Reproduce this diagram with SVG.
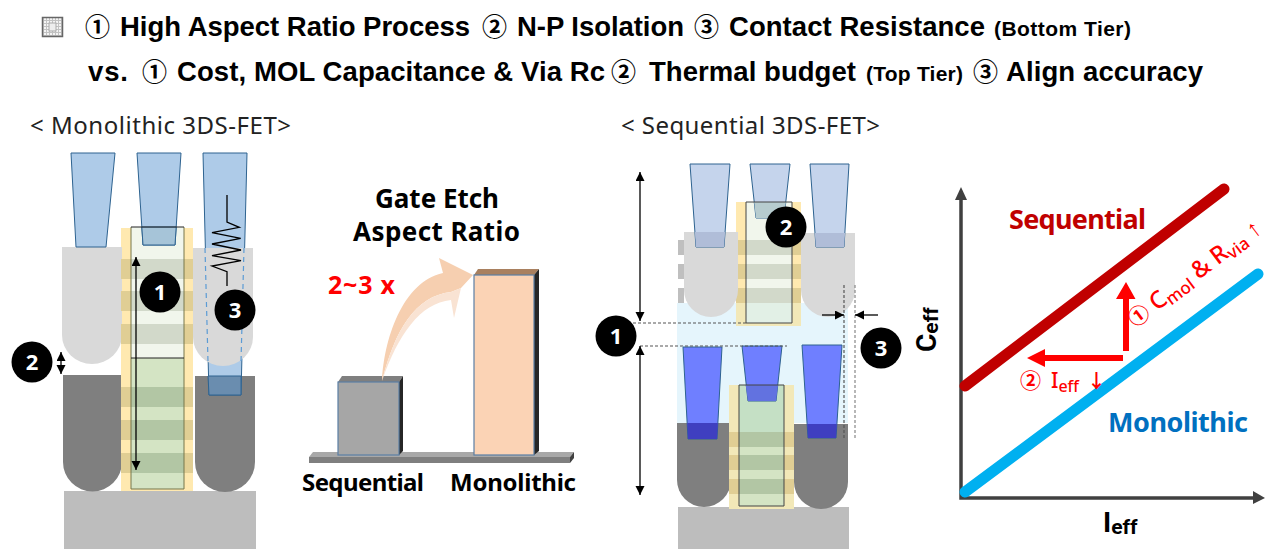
<svg xmlns="http://www.w3.org/2000/svg" width="1287" height="558" viewBox="0 0 1287 558">
<defs>
<style>
.t{font-family:"Liberation Sans",Arial,sans-serif;font-weight:700;fill:#000;font-size:27.500px}
.s{font-size:21px}
.c{font-family:"Noto Sans CJK KR","Noto Sans CJK SC",sans-serif;font-weight:700;font-size:25px;fill:#000}
.h{font-family:"Noto Sans",sans-serif;font-size:24px;fill:#222}
.b{font-family:"Noto Sans",sans-serif;font-weight:700}
.r{font-family:Roboto,sans-serif;font-weight:700}
.lab{font-family:"Noto Sans",sans-serif;fill:#FF0000;font-weight:500}
.cj{font-family:"Noto Sans CJK KR","Noto Sans CJK SC",sans-serif;fill:#FF0000;font-weight:700}
.cw{font-family:"Noto Sans",sans-serif;font-weight:700;font-size:22px;fill:#fff;text-anchor:middle}
.via{fill:#AECBE8;stroke:#2E6390;stroke-width:1}
.via2{fill:#C5D4EC;stroke:#2E6390;stroke-width:1}
.via3{fill:#6F7FFF;stroke:#2E6390;stroke-width:1}
.ar{stroke:#000;stroke-width:1.300;fill:none}
</style>
<marker id="ah" markerUnits="userSpaceOnUse" markerWidth="11" markerHeight="10" refX="9" refY="4.500" orient="auto-start-reverse"><path d="M0,0L9,4.500L0,9Z" fill="#000"/></marker>
<pattern id="grid" patternUnits="userSpaceOnUse" x="42" y="16" width="3" height="3"><rect width="3" height="3" fill="#F4F4F4"/><path d="M0,1.500H3M1.500,0V3" stroke="#C2C2C2" stroke-width="1"/></pattern>
</defs>
<rect width="1287" height="558" fill="#fff"/>

<g id="title">
<rect x="42.500" y="17.500" width="20" height="19" fill="url(#grid)" stroke="#666" stroke-width="1.500"/>
<rect x="49" y="23" width="7" height="8" fill="#EDEDED" stroke="#AAA" stroke-width="1"/>
<text class="c" x="85" y="36">①</text>
<text class="t" x="120" y="36" textLength="350">High Aspect Ratio Process</text>
<text class="c" x="482" y="36">②</text>
<text class="t" x="517" y="36" textLength="167">N-P Isolation</text>
<text class="c" x="694" y="36">③</text>
<text class="t" x="729" y="36" textLength="256">Contact Resistance</text>
<text class="t s" x="994" y="36" textLength="137">(Bottom Tier)</text>
<text class="t" x="88" y="81" textLength="40">vs.</text>
<text class="c" x="142" y="81">①</text>
<text class="t" x="177" y="81" textLength="428">Cost, MOL Capacitance &amp; Via Rc</text>
<text class="c" x="611" y="81">②</text>
<text class="t" x="649" y="81" textLength="207">Thermal budget</text>
<text class="t s" x="866" y="81" textLength="97">(Top Tier)</text>
<text class="c" x="973" y="81">③</text>
<text class="t" x="1006" y="81" textLength="197">Align accuracy</text>
</g>

<g id="monolithic">
<text class="h" x="30" y="134" textLength="261">&lt;  Monolithic 3DS-FET&gt;</text>
<rect x="64" y="491" width="192" height="58" fill="#BDBDBD"/>
<path d="M63,375H122V462A29.500,29.500 0 0 1 63,462Z" fill="#7F7F7F"/>
<path d="M195,376H255V462A30,30 0 0 1 195,462Z" fill="#7F7F7F"/>
<rect x="121" y="228" width="72" height="263" fill="#FFE9B0"/>
<path d="M62,247H122V335A30,29 0 0 1 62,335Z" fill="#D9D9D9"/>
<path d="M71,153H115L106,247H76Z" class="via"/>
<path d="M203,153H247L241,395H209Z" class="via"/>
<path d="M193,248H253V337A30,29 0 0 1 193,337Z" fill="#D9D9D9"/>
<path d="M208,376H241L241,395H209Z" fill="#6A8DAF" stroke="#2E6390"/>
<path d="M205,248L208,362M244,248L241,362" fill="none" stroke="#5B9BD5" stroke-width="1.200" stroke-dasharray="5 4"/>
<g fill="#E0CE94">
<rect x="121" y="259" width="72" height="20"/><rect x="121" y="291" width="72" height="20"/><rect x="121" y="324" width="72" height="20"/>
<rect x="121" y="387" width="72" height="20"/><rect x="121" y="420" width="72" height="20"/><rect x="121" y="453" width="72" height="20"/>
</g>
<rect x="131" y="227" width="53" height="131" fill="#F1F6EC"/>
<rect x="131" y="358" width="53" height="131" fill="#D4E4C4"/>
<g fill="#D2D9CA"><rect x="131" y="259" width="53" height="20"/><rect x="131" y="291" width="53" height="20"/><rect x="131" y="324" width="53" height="20"/></g>
<g fill="#B2C6A4"><rect x="131" y="387" width="53" height="20"/><rect x="131" y="420" width="53" height="20"/><rect x="131" y="453" width="53" height="20"/></g>
<path d="M137,153H181L175,245H143Z" class="via"/>
<path d="M141.800,227H176.200L175,245H143Z" fill="#A6C4D8" stroke="#2E6390"/>
<path d="M131,227V489H184V227" fill="none" stroke="#77774A" stroke-width="1"/>
<path d="M131,227H184M131,358H184" fill="none" stroke="#222" stroke-width="1"/>
<line class="ar" x1="136" y1="257" x2="136" y2="470" marker-start="url(#ah)" marker-end="url(#ah)"/>
<line class="ar" x1="61" y1="352" x2="61" y2="374" marker-start="url(#ah)" marker-end="url(#ah)"/>
<path d="M227,195V222L239.300,227.300L212,232.700L240.700,238.300L212,244L241,250L212,255.700L241,260.700L212,266L227,271.700V286" fill="none" stroke="#000" stroke-width="1.300"/>
<g id="m1"><circle cx="160" cy="292" r="20.500"/><text class="cw" x="160" y="300">1</text></g>
<g id="m2"><circle cx="32" cy="362" r="20.500"/><text class="cw" x="32" y="370">2</text></g>
<g id="m3"><circle cx="235" cy="310" r="20.500"/><text class="cw" x="235" y="318">3</text></g>
</g>

<g id="bars">
<text class="b" x="375" y="208" font-size="26" textLength="124">Gate Etch</text>
<text class="b" x="353" y="241" font-size="26" textLength="167">Aspect Ratio</text>
<text class="b" x="328" y="294" font-size="25" fill="#FF0000" textLength="67">2~3 x</text>
<path d="M313,452H574L570,457H309Z" fill="#A8A8A8"/>
<rect x="309" y="457" width="261" height="6" fill="#7F7F7F"/>
<path d="M570,457L574,452V458L570,463Z" fill="#404040"/>
<path d="M338,382L342,376H403L399,382Z" fill="#7F7F7F"/>
<path d="M399,382L403,376V451L399,455Z" fill="#262626"/>
<rect x="338" y="382" width="61" height="73" fill="#A6A6A6" stroke="#5B7FA5" stroke-width="1.200"/>
<path d="M474,275L478,269H539L534,275Z" fill="#A9805F"/>
<path d="M534,275L539,269V451L534,455Z" fill="#262626"/>
<rect x="474" y="275" width="60" height="180" fill="#FBD3B5" stroke="#5B7FA5" stroke-width="1.200"/>
<path d="M382,381C384,340 402,282 443,273L439,258L473,275L461,288L451,292C415,296 395,330 382,381Z" fill="#F6CFB0"/>
<path d="M382,381C395,330 415,296 451,292L461,288L454,318L451,300C420,303 398,335 382,381Z" fill="#F9E3D3"/>
<text class="b" x="302" y="491" font-size="24" textLength="122">Sequential</text>
<text class="b" x="450" y="491" font-size="24" textLength="126">Monolithic</text>
</g>

<g id="sequential">
<text class="h" x="621" y="134" textLength="259">&lt;  Sequential 3DS-FET&gt;</text>
<rect x="678" y="507" width="171" height="42" fill="#BDBDBD"/>
<g fill="#BFBFBF"><rect x="678" y="240" width="6" height="15"/><rect x="678" y="264" width="6" height="15"/><rect x="678" y="288" width="6" height="15"/></g>
<rect x="677" y="303" width="171" height="120" fill="#E5F5FC"/>
<path d="M677,423H731V480A27,27 0 0 1 677,480Z" fill="#7F7F7F"/>
<path d="M794,424H848V482A27,27 0 0 1 794,482Z" fill="#7F7F7F"/>
<rect x="736" y="202" width="65" height="101" fill="#FFE9B0"/>
<rect x="736" y="303" width="65" height="23" fill="#F2E8B8"/>
<g fill="#E0CE94"><rect x="736" y="240" width="65" height="15"/><rect x="736" y="264" width="65" height="15"/><rect x="736" y="288" width="65" height="15"/></g>
<rect x="746" y="202" width="46" height="101" fill="#F1F6EC"/>
<rect x="746" y="303" width="46" height="20" fill="#E2F0E6"/>
<g fill="#D2D9CA"><rect x="746" y="240" width="46" height="15"/><rect x="746" y="264" width="46" height="15"/><rect x="746" y="288" width="46" height="15"/></g>
<path d="M684,232H738V290A27,27 0 0 1 684,290Z" fill="#D9D9D9"/>
<path d="M801,233H855V290A27,27 0 0 1 801,290Z" fill="#D9D9D9"/>
<path d="M690,164H730L724,247H696Z" class="via2"/>
<path d="M694.900,232H725.100L724,247H696Z" fill="#B0BDD8"/>
<path d="M810,164H849L844,247H816Z" class="via2"/>
<path d="M814.800,233H845.100L844,247H816Z" fill="#B0BDD8"/>
<path d="M750,164H790L784,218H756Z" class="via2"/>
<path d="M754.200,202H785.800L784,218H756Z" fill="#B7CCCF"/>
<path d="M746,202H792V323H746Z" fill="none" stroke="#444"/>
<rect x="729" y="385" width="65" height="124" fill="#F2E8B8"/>
<rect x="739" y="385" width="45" height="121" fill="#C5E0C5"/>
<rect x="739" y="447" width="45" height="59" fill="#D4E4C4"/>
<g fill="#E0CE94"><rect x="729" y="432" width="65" height="15"/><rect x="729" y="455" width="65" height="15"/><rect x="729" y="479" width="65" height="15"/></g>
<g fill="#B2C6A4"><rect x="739" y="432" width="45" height="15"/><rect x="739" y="455" width="45" height="15"/><rect x="739" y="479" width="45" height="15"/></g>
<path d="M683,347H722L717,439H688Z" class="via3"/>
<path d="M687.200,423H717.900L717,439H688Z" fill="#3F3FC0"/>
<path d="M802,345H842L836,438H808Z" class="via3"/>
<path d="M807.200,424H836.900L836,438H808Z" fill="#3F3FC0"/>
<path d="M742,346H782L776,401H748Z" class="via3"/>
<path d="M745.700,385H778L776,401H748Z" fill="#6272E0"/>
<path d="M739,385H784V506H739Z" fill="none" stroke="#444"/>
<path d="M633,323H746M640,346H787" fill="none" stroke="#555" stroke-width="1.200" stroke-dasharray="3 2"/>
<path d="M844,285V438" fill="none" stroke="#555" stroke-width="1.200" stroke-dasharray="3 2"/>
<path d="M855,285V438" fill="none" stroke="#888" stroke-width="1.200" stroke-dasharray="3 2"/>
<line class="ar" x1="640" y1="172" x2="640" y2="321" marker-start="url(#ah)" marker-end="url(#ah)"/>
<line class="ar" x1="640" y1="346" x2="640" y2="495" marker-start="url(#ah)" marker-end="url(#ah)"/>
<line class="ar" x1="822" y1="315" x2="844" y2="315" marker-end="url(#ah)"/>
<line class="ar" x1="878" y1="315" x2="855" y2="315" marker-end="url(#ah)"/>
<g id="s1"><circle cx="616" cy="336" r="20.500"/><text class="cw" x="616" y="344">1</text></g>
<g id="s2"><circle cx="786" cy="227" r="20.500"/><text class="cw" x="786" y="235">2</text></g>
<g id="s3"><circle cx="881" cy="348" r="20.500"/><text class="cw" x="881" y="356">3</text></g>
</g>

<g id="chart">
<path d="M961,198V498H1255" fill="none" stroke="#404040" stroke-width="3.500"/>
<path d="M961,187L955,200H967Z" fill="#404040"/>
<path d="M1265,498L1253,491V504Z" fill="#404040"/>
<line x1="965" y1="386" x2="1224" y2="189" stroke="#C00000" stroke-width="11" stroke-linecap="round"/>
<line x1="965" y1="492" x2="1258" y2="274" stroke="#00B0F0" stroke-width="11" stroke-linecap="round"/>
<path d="M1123,351V299H1116L1126,282L1135.500,299H1129V351Z" fill="#FF0000"/>
<path d="M1123,355H1045V349L1027,358L1045,367V361H1123Z" fill="#FF0000"/>
<text class="b" x="1009" y="229" font-size="27" fill="#C00000" textLength="137">Sequential</text>
<text class="b" x="1108" y="432" font-size="27" fill="#0070C0" textLength="140">Monolithic</text>
<text class="r" x="1103" y="532" font-size="28">I<tspan font-size="21" dy="2">eff</tspan></text>
<text class="r" transform="translate(936,352) rotate(-90)" font-size="28">C<tspan font-size="21" dy="2">eff</tspan></text>
<text class="lab" transform="translate(1135,328) rotate(-37)" font-size="24"><tspan class="cj" font-size="21">①</tspan> C<tspan font-size="17" dy="4">mol</tspan><tspan dy="-4"> &amp; R</tspan><tspan font-size="17" dy="4">via</tspan><tspan dy="-4"> ↑</tspan></text>
<text class="cj" x="1020" y="388" font-size="21">②</text>
<text class="lab" x="1051" y="388" font-size="21">I<tspan font-size="16" dy="4">eff</tspan></text>
<text class="cj" x="1087" y="388" font-size="19">↓</text>
</g>
</svg>
